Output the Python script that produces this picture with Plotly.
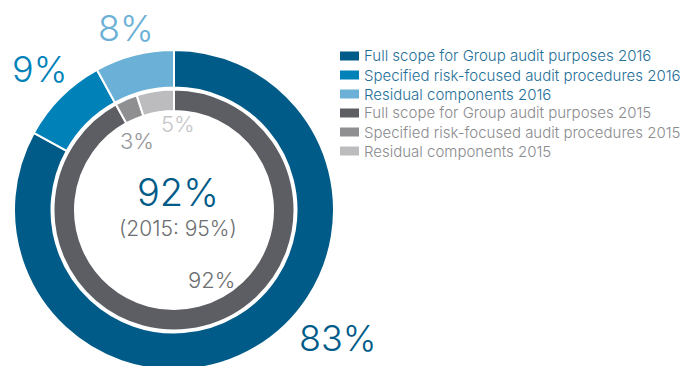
import plotly.graph_objects as go

# ---- data ----
labels_2016 = ["Full scope for Group audit purposes 2016",
               "Specified risk-focused audit procedures 2016",
               "Residual components 2016"]
values_2016 = [83, 9, 8]
labels_2015 = ["Full scope for Group audit purposes 2015",
               "Specified risk-focused audit procedures 2015",
               "Residual components 2015"]
values_2015 = [92, 3, 5]
headline = "92%"
headline_prior = "(2015: 95%)"

colors_2016 = ["#005b88", "#0081b8", "#6bb0d6"]
colors_2015 = ["#5d5e63", "#8f8f92", "#bcbcbf"]
label_colors_2015 = ["#6d6e71", "#939598", "#c4c5c7"]

FONT = "Inter"
W, H = 686, 372
cx, cy = 174, 210


def xd(c, r):
    return [(c - r) / W, (c + r) / W]


def yd(c, r):
    return [(H - c - r) / H, (H - c + r) / H]


def px(x):
    return x / W


def py(y):
    return (H - y) / H


fig = go.Figure()
fig.add_trace(go.Pie(
    values=values_2016, labels=labels_2016, sort=False, direction="clockwise",
    rotation=0, hole=122.5 / 160,
    marker=dict(colors=colors_2016, line=dict(color="white", width=2)),
    domain=dict(x=xd(cx, 160), y=yd(cy, 160)),
    textinfo="none", showlegend=False, hoverinfo="label+percent"))
fig.add_trace(go.Pie(
    values=values_2015, labels=labels_2015, sort=False, direction="clockwise",
    rotation=0, hole=99 / 120.5,
    marker=dict(colors=colors_2015, line=dict(color="white", width=2)),
    domain=dict(x=xd(cx, 120.5), y=yd(cy, 120.5)),
    textinfo="none", showlegend=False, hoverinfo="label+percent"))

ann = []
# outer ring labels
outer_pos = [(338, 338), (39, 69), (126, 28)]
for v, c, (x, y) in zip(values_2016, colors_2016, outer_pos):
    ann.append(dict(x=px(x), y=py(y), text=f"{v}%", showarrow=False,
                    xanchor="center", yanchor="middle",
                    font=dict(family=FONT, size=36, color=c, weight=300)))
# inner ring labels
inner_pos = [(211, 280), (137, 141), (178, 124)]
for v, c, (x, y) in zip(values_2015, label_colors_2015, inner_pos):
    ann.append(dict(x=px(x), y=py(y), text=f"{v}%", showarrow=False,
                    xanchor="center", yanchor="middle",
                    font=dict(family=FONT, size=22, color=c, weight=300)))
# centre text
ann.append(dict(x=px(178), y=py(192), text=headline, showarrow=False,
                xanchor="center", yanchor="middle",
                font=dict(family=FONT, size=38, color=colors_2016[0], weight=300)))
ann.append(dict(x=px(178), y=py(228), text=headline_prior, showarrow=False,
                xanchor="center", yanchor="middle",
                font=dict(family=FONT, size=21, color="#6d6e71", weight=300)))

# legend
shapes = []
rows_y = [56, 75, 94, 113, 132, 151]
leg_labels = labels_2016 + labels_2015
leg_colors = colors_2016 + colors_2015
text_colors = ["#1f6f98"] * 3 + ["#8a8b8e"] * 3
for yy, lab, col, tc in zip(rows_y, leg_labels, leg_colors, text_colors):
    shapes.append(dict(type="rect", xref="paper", yref="paper",
                       x0=px(340), x1=px(359), y0=py(yy + 4.5), y1=py(yy - 4.5),
                       fillcolor=col, line=dict(width=0)))
    ann.append(dict(x=px(362), y=py(yy), text=lab, showarrow=False,
                    xanchor="left", yanchor="middle",
                    font=dict(family=FONT, size=15, color=tc, weight=300)))

fig.update_layout(
    width=W, height=H, margin=dict(l=0, r=0, t=0, b=0),
    paper_bgcolor="white", plot_bgcolor="white",
    annotations=ann, shapes=shapes, showlegend=False,
)

fig.write_html("out.html", post_script=(
    "document.documentElement.style.overflow='hidden';"
    "document.body.style.overflow='hidden';document.body.style.margin='0';"))
